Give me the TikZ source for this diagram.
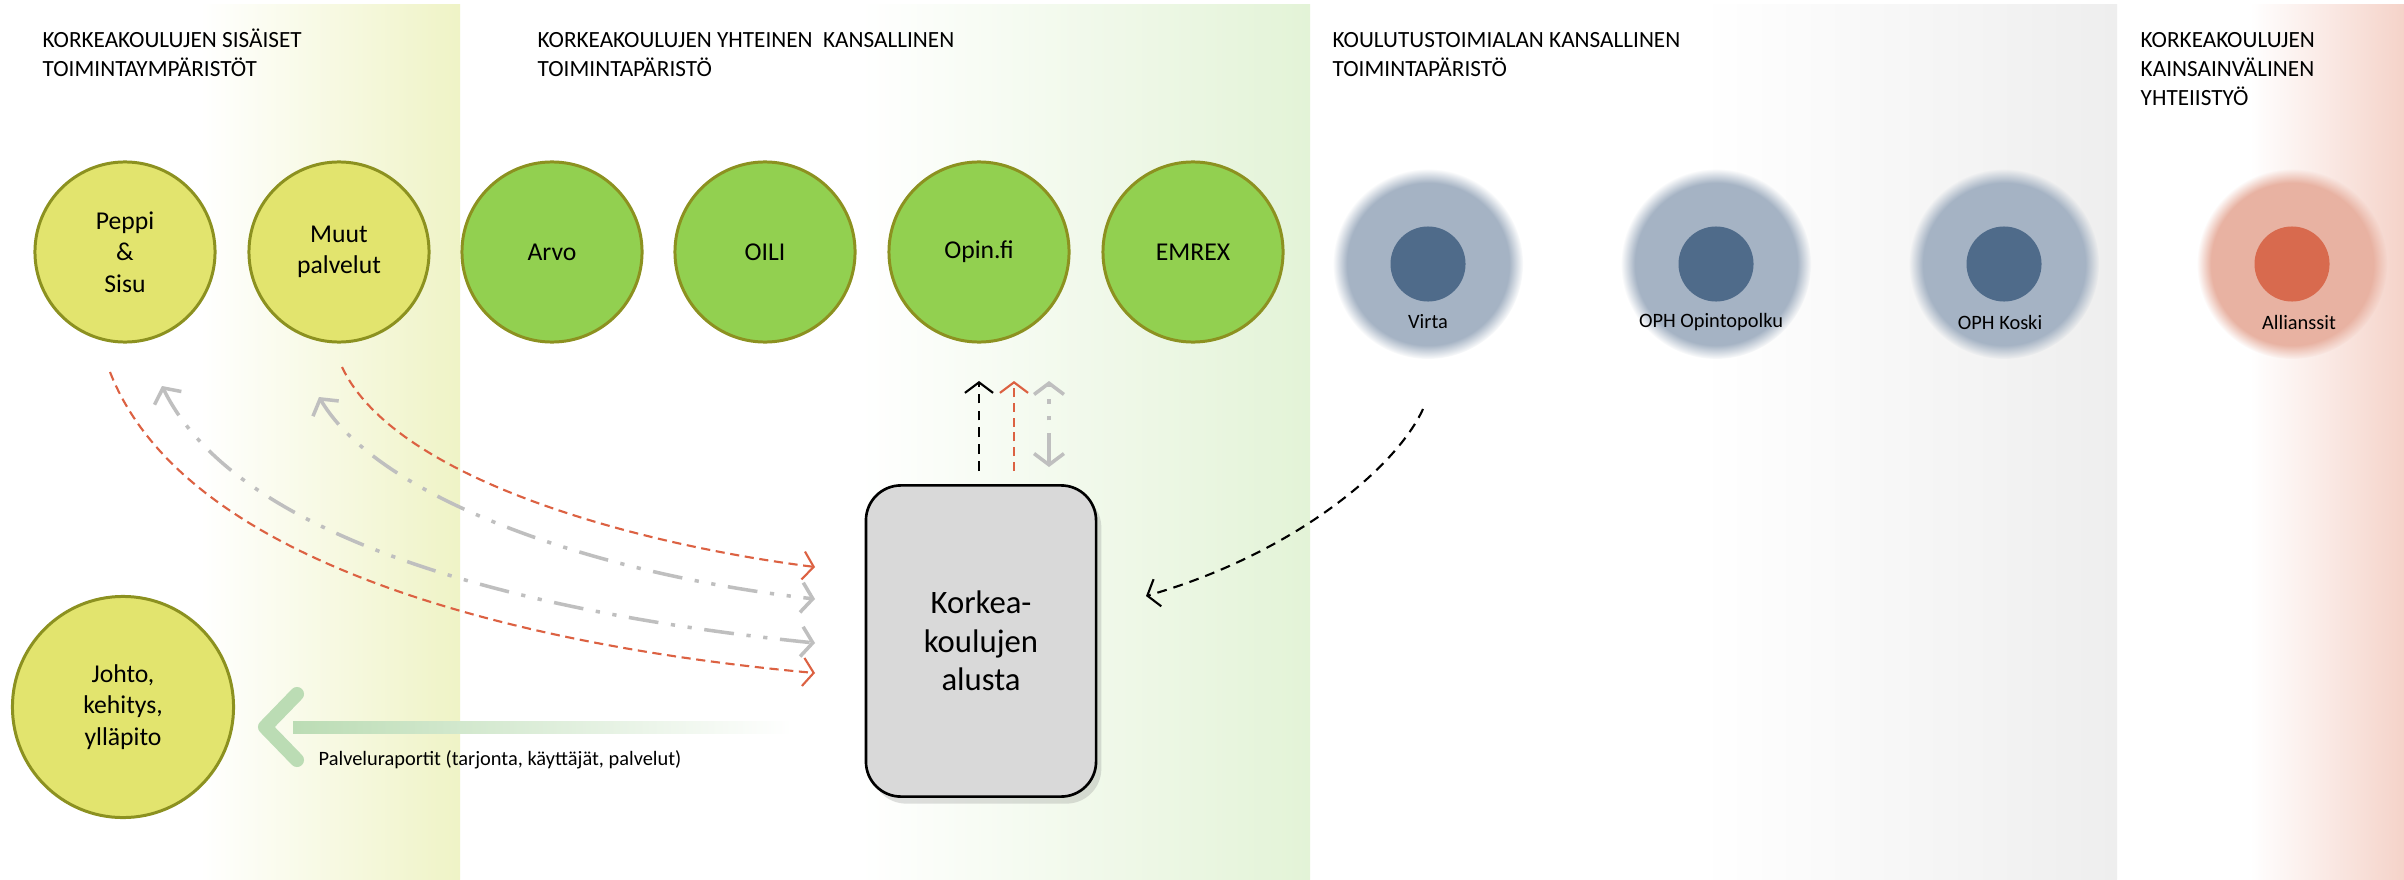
\documentclass[tikz,border=0pt]{standalone}
\usepackage{fontspec}
\setmainfont{Carlito}
\usetikzlibrary{arrows.meta, shadows, fadings}

\definecolor{bandyellow}{RGB}{239,243,198}
\definecolor{bandgreen}{RGB}{227,243,215}
\definecolor{bandgray}{RGB}{238,238,238}
\definecolor{bandred}{RGB}{245,211,201}
\definecolor{circyellow}{RGB}{226,228,110}
\definecolor{circgreen}{RGB}{146,208,80}
\definecolor{circedge}{RGB}{140,145,32}
\definecolor{blueouter}{RGB}{165,179,196}
\definecolor{blueinner}{RGB}{79,107,138}
\definecolor{redouter}{RGB}{232,178,162}
\definecolor{redinner}{RGB}{216,106,78}
\definecolor{flowred}{RGB}{220,97,66}
\definecolor{flowgray}{RGB}{191,191,191}
\definecolor{reportgreen}{RGB}{187,220,180}
\definecolor{boxgray}{RGB}{217,217,217}

\tikzset{
	areatitle/.style = {anchor = base west, align = left, inner sep = 0pt, font = \fontsize{6.6}{8.25}\selectfont},
	service/.style = {circle, minimum size = 1.8cm, inner sep = 0pt, draw = circedge, line width = 0.85pt, align = center, font = \fontsize{7.3}{9}\selectfont},
	core/.style = {circle, minimum size = 0.75cm, inner sep = 0pt, fill = #1},
	tag/.style = {inner sep = 0pt, font = \fontsize{5.8}{7}\selectfont},
	redflow/.style = {flowred, line width = 0.6pt, dash pattern = on 2.6pt off 1.6pt, -{Straight Barb[length = 3pt, width = 8pt]}},
	grayflow/.style = {flowgray, line width = 1pt, dash pattern = on 8.5pt off 3.6pt on 1.2pt off 3.6pt on 1.2pt off 3.6pt, {Straight Barb[length = 3.2pt, width = 8.5pt]}-{Straight Barb[length = 3.2pt, width = 8.5pt]}},
	blackflow/.style = {black, line width = 0.6pt, dash pattern = on 2.8pt off 2pt, -{Straight Barb[length = 3pt, width = 8pt]}}
}

\begin{document}
\begin{tikzpicture}[x = 0.01cm, y = 0.01cm]
	\useasboundingbox (0, 0) rectangle (2404, -879);
	\fill [white] (0, 0) rectangle (2404, -879);
	
	\shade [left color = white, right color = bandyellow] (200, -5) rectangle (460, -879);
	\shade [left color = white, right color = bandgreen] (860, -5) rectangle (1310, -879);
	\shade [left color = white, right color = bandgray] (1700, -5) rectangle (2117, -879);
	\shade [left color = white, right color = bandred] (2250, -5) rectangle (2404, -879);
	
	\node [areatitle] (title1) at (42, -77) {KORKEAKOULUJEN SISÄISET\\TOIMINTAYMPÄRISTÖT};
	\node [areatitle] (title2) at (537, -77) {KORKEAKOULUJEN YHTEINEN~ KANSALLINEN\\TOIMINTAPÄRISTÖ};
	\node [areatitle] (title3) at (1332, -77) {KOULUTUSTOIMIALAN KANSALLINEN\\TOIMINTAPÄRISTÖ};
	\node [areatitle] (title4) at (2140, -106) {KORKEAKOULUJEN\\KAINSAINVÄLINEN\\YHTEIISTYÖ};
	
	\node [service, fill = circyellow] (peppi) at (125, -252) {Peppi\\\&\\Sisu};
	\node [service, fill = circyellow] (muut) at (339, -252) {Muut\\palvelut};
	\node [service, fill = circgreen] (arvo) at (552, -252) {Arvo};
	\node [service, fill = circgreen] (oili) at (765, -252) {OILI};
	\node [service, fill = circgreen] (opin) at (979, -252) {Opin.fi};
	\node [service, fill = circgreen] (emrex) at (1193, -252) {EMREX};
	
	\fill [blueouter, path fading = circle with fuzzy edge 15 percent] (1428, -264) circle (95);
	\fill [blueouter, path fading = circle with fuzzy edge 15 percent] (1716, -264) circle (95);
	\fill [blueouter, path fading = circle with fuzzy edge 15 percent] (2004, -264) circle (95);
	\fill [redouter, path fading = circle with fuzzy edge 15 percent] (2292, -264) circle (95);
	\node [core = blueinner] (virta) at (1428, -264) {};
	\node [core = blueinner] (opintopolku) at (1716, -264) {};
	\node [core = blueinner] (koski) at (2004, -264) {};
	\node [core = redinner] (allianssit) at (2292, -264) {};
	\node [tag] (virtatag) at (1428, -322) {Virta};
	\node [tag] (opintopolkutag) at (1711, -322) {OPH Opintopolku};
	\node [tag] (koskitag) at (2000, -322) {OPH Koski};
	\node [tag] (allianssittag) at (2299, -322) {Allianssit};
	
	\node [service, minimum size = 2.21cm, fill = circyellow] (johto) at (123, -707) {Johto,\\kehitys,\\ylläpito};
	
	\node [draw, line width = 0.75pt, fill = boxgray, rounded corners = 0.35cm, minimum width = 2.3cm, minimum height = 3.11cm, align = center, font = \fontsize{9.3}{11}\selectfont, drop shadow = {shadow xshift = 1.5pt, shadow yshift = -2pt, opacity = 0.25}] (alusta) at (981, -641) {Korkea-\\koulujen\\alusta};
	
	\coordinate (peppired) at (110, -372);
	\coordinate (peppigray) at (162, -386);
	\coordinate (muutgray) at (319, -397);
	\coordinate (muutred) at (342, -367);
	\coordinate (in1) at (815, -567);
	\coordinate (in2) at (815, -599);
	\coordinate (in3) at (815, -643);
	\coordinate (in4) at (815, -673);
	
	\draw [redflow] (muutred) .. controls +(53, -113) and +(-175, 22) .. (in1);
	\draw [grayflow] (muutgray) .. controls +(61, -103) and +(-215, 24) .. (in2);
	\draw [grayflow] (peppigray) .. controls +(78, -159) and +(-275, 28) .. (in3);
	\draw [redflow] (peppired) .. controls +(80, -205) and +(-255, 23) .. (in4);
	
	\coordinate (up1) at (979, -471);
	\coordinate (up2) at (1014, -471);
	\coordinate (up3) at (1049, -467);
	\draw [blackflow] (up1) -- (979, -381);
	\draw [redflow] (up2) -- (1014, -381);
	\draw [grayflow] (up3) -- (1049, -381);
	
	\coordinate (virtaout) at (1423, -409);
	\coordinate (alustain) at (1146, -596);
	\draw [blackflow] (virtaout) .. controls +(-28, -61) and +(144, 41) .. (alustain);
	
	\coordinate (reportstart) at (792, -727);
	\coordinate (reporttip) at (265, -727);
	\shade [left color = reportgreen, middle color = reportgreen!85, right color = white] ([shift = {(28, 6)}]reporttip) rectangle ([shift = {(0, -6)}]reportstart);
	\draw [reportgreen, line width = 4pt, line cap = round, line join = round] ([shift = {(32, 33)}]reporttip) -- (reporttip) -- ([shift = {(32, -33)}]reporttip);
	\node [tag, anchor = west] (reportlabel) at (318, -760) {Palveluraportit (tarjonta, käyttäjät, palvelut)};
\end{tikzpicture}
\end{document}
